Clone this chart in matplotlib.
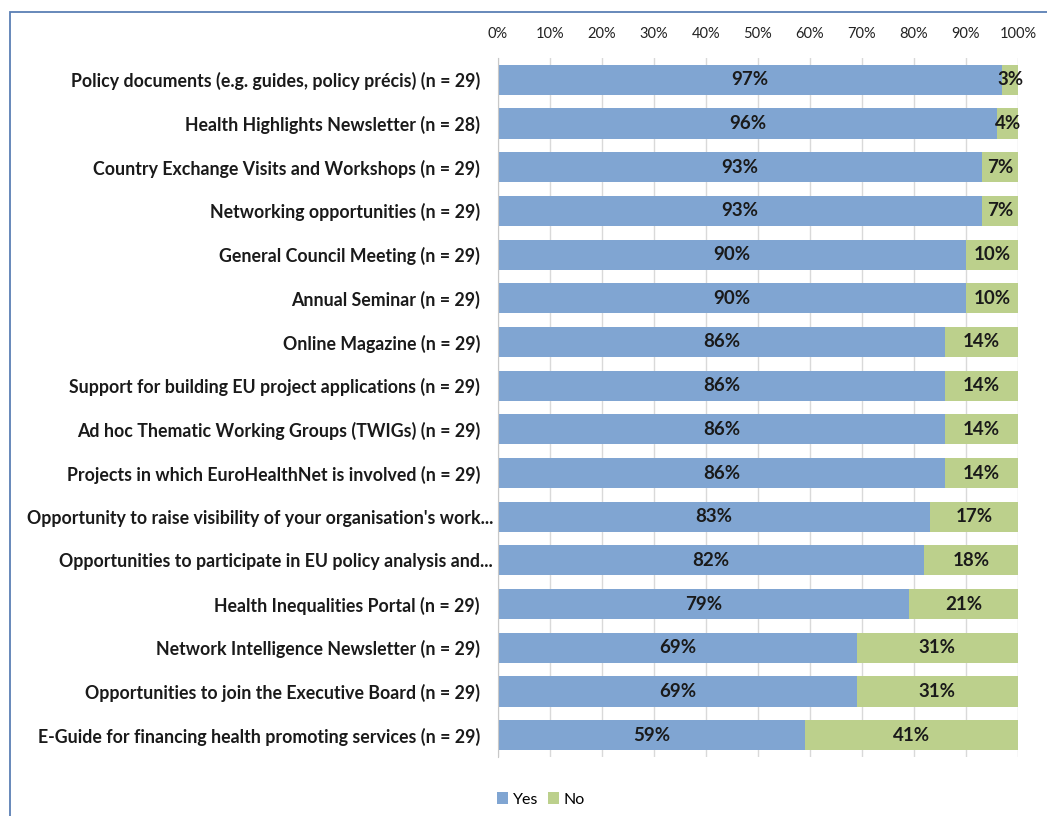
import matplotlib.pyplot as plt
import matplotlib.patches as mpatches
from matplotlib.transforms import ScaledTranslation
import numpy as np

plt.rcParams['font.family'] = ['Lato', 'DejaVu Sans']

categories = [
    "Policy documents (e.g. guides, policy précis) (n = 29)",
    "Health Highlights Newsletter (n = 28)",
    "Country Exchange Visits and Workshops (n = 29)",
    "Networking opportunities (n = 29)",
    "General Council Meeting (n = 29)",
    "Annual Seminar (n = 29)",
    "Online Magazine (n = 29)",
    "Support for building EU project applications (n = 29)",
    "Ad hoc Thematic Working Groups (TWIGs) (n = 29)",
    "Projects in which EuroHealthNet is involved (n = 29)",
    "Opportunity to raise visibility of your organisation's work...",
    "Opportunities to participate in EU policy analysis and...",
    "Health Inequalities Portal (n = 29)",
    "Network Intelligence Newsletter (n = 29)",
    "Opportunities to join the Executive Board (n = 29)",
    "E-Guide for financing health promoting services (n = 29)",
]
yes = [97, 96, 93, 93, 90, 90, 86, 86, 86, 86, 83, 82, 79, 69, 69, 59]
no = [3, 4, 7, 7, 10, 10, 14, 14, 14, 14, 17, 18, 21, 31, 31, 41]

blue = '#80a5d2'
green = '#bcd08c'

fig = plt.figure(figsize=(10.47, 8.16), dpi=100)
ax = fig.add_axes([498 / 1047, 1 - 757 / 816, 520 / 1047, 699 / 816])

y = np.arange(len(categories))
ax.barh(y, yes, height=0.69, color=blue, label='Yes', zorder=2)
ax.barh(y, no, left=yes, height=0.69, color=green, label='No', zorder=2)

for i in range(len(categories)):
    ax.text(yes[i] / 2, y[i], f"{yes[i]}%", ha='center', va='center',
            fontsize=13.5, fontweight='bold', color='#1a1a1a', zorder=3)
    ax.text(yes[i] + no[i] / 2, y[i], f"{no[i]}%", ha='center', va='center',
            fontsize=13.5, fontweight='bold', color='#1a1a1a', zorder=3)

ax.set_xlim(0, 100)
ax.set_ylim(len(categories) - 0.5, -0.5)
ax.set_xticks(range(0, 101, 10))
ax.set_xticklabels([f"{t}%" for t in range(0, 101, 10)], fontsize=10.5, color='#222222')
ax.xaxis.tick_top()
ax.tick_params(axis='x', length=0, pad=12)
ax.set_yticks(y)
ax.set_yticklabels(categories, fontsize=12.8, fontweight='bold', color='#1a1a1a')
ax.tick_params(axis='y', length=0, pad=13)

# truncated labels sit closer to the axis
for lab in ax.get_yticklabels():
    if lab.get_text().endswith('...'):
        lab.set_transform(lab.get_transform() + ScaledTranslation(13 / 100, 0, fig.dpi_scale_trans))

ax.xaxis.grid(True, color='#d9d9d9', linewidth=1, zorder=0)
ax.set_axisbelow(True)
for side in ['top', 'right', 'bottom']:
    ax.spines[side].set_visible(False)
ax.spines['left'].set_color('#c8c8c8')

ax.legend(loc='upper left', bbox_to_anchor=(-0.03, -0.03), ncol=2, frameon=False,
          fontsize=11.5, handlelength=0.7, handleheight=0.7, handletextpad=0.3,
          columnspacing=0.6)

# chart frame
fig.patches.append(mpatches.Rectangle((10 / 1047, -0.1), 1.2, 1 - 12 / 816 + 0.1,
                                      transform=fig.transFigure, fill=False,
                                      edgecolor='#5b7fb4', linewidth=1.3))

fig.savefig('out.png', dpi=100)
